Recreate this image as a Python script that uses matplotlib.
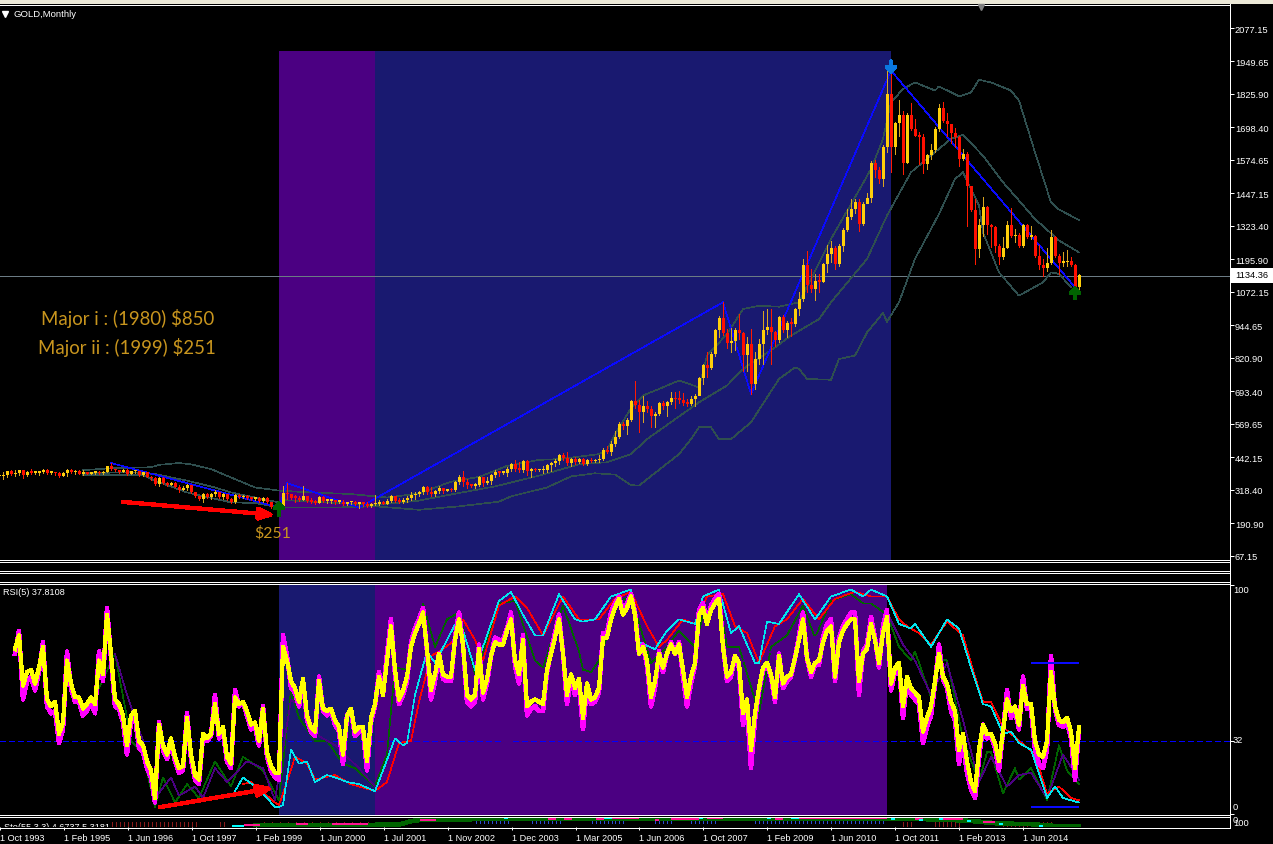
import numpy as np
import matplotlib
matplotlib.use("Agg")
import matplotlib.pyplot as plt
from matplotlib.lines import Line2D
from matplotlib.patches import Rectangle

#### Chart values ####

# monthly candles, one number per bar from bar 0 (open is the close before)
closes = [
  370,375,389,378,384,393,375,387,383,384,
  388,396,383,384,382,372,382,396,386,389,
  381,386,381,384,388,382,386,408,398,393,
  388,396,379,389,389,375,386,369,363,341,
  364,344,337,345,331,320,326,337,310,294,
  284,303,290,303,310,290,303,284,271,301,
  290,294,287,284,289,277,287,271,255,252,
  254,307,302,289,288,282,294,278,274,270,
  292,278,278,278,273,274,264,271,271,265,
  268,266,257,264,266,271,266,276,297,278,
  273,282,287,298,302,311,330,311,304,313,
  325,316,320,317,347,367,350,336,335,339,
  368,345,354,374,387,384,384,398,416,400,
  396,428,389,397,393,393,394,412,420,429,
  450,439,422,435,425,435,416,434,428,431,
  435,469,463,492,519,568,561,584,656,643,
  615,637,625,600,608,648,638,652,667,664,
  661,651,646,664,676,745,795,783,835,926,
  973,915,877,887,927,915,831,873,723,818,
  873,926,940,920,888,976,926,955,951,1006,
  1044,1176,1097,1082,1115,1110,1177,1215,1241,1180,
  1247,1307,1359,1387,1416,1332,1409,1431,1562,1535,
  1501,1625,1825,1623,1714,1745,1564,1747,1694,1666,
  1664,1559,1595,1614,1691,1771,1722,1713,1676,1663,
  1577,1596,1475,1385,1234,1326,1394,1328,1321,1249,
  1204,1241,1326,1285,1291,1247,1326,1282,1286,1209,
  1173,1163,1181,1282,1211,1184,1185,1189,1173,1092,
  1135]
highs = [
  378,386,392,396,396,396,393,390,398,391,
  392,398,398,389,388,387,385,398,398,394,
  393,396,388,388,391,391,390,411,421,400,
  394,398,400,392,392,392,388,388,372,367,
  367,368,348,350,347,337,332,342,338,312,
  296,306,305,306,318,312,306,303,287,303,
  303,298,299,293,292,292,290,290,271,258,
  262,332,345,299,299,294,332,294,287,282,
  294,294,280,280,282,282,279,274,278,276,
  274,270,274,269,299,279,275,284,299,297,
  287,288,294,309,312,316,335,332,330,320,
  332,327,322,325,354,375,389,360,342,345,
  373,369,367,379,393,392,392,405,421,433,
  424,431,433,401,403,400,411,417,424,436,
  455,459,462,440,443,441,439,436,441,435,
  452,477,487,506,544,576,578,591,662,735,
  660,675,657,639,614,655,658,658,690,693,
  696,688,665,677,684,747,798,845,842,931,
  979,1033,931,934,934,988,921,899,931,842,
  893,1001,1007,1007,925,982,985,963,972,1010,
  1073,1198,1227,1160,1141,1141,1183,1251,1268,1246,
  1255,1315,1388,1426,1426,1426,1416,1448,1571,1576,
  1547,1632,1915,1915,1718,1803,1762,1753,1792,1731,
  1683,1672,1598,1636,1699,1788,1794,1754,1699,1695,
  1667,1616,1604,1477,1426,1350,1433,1401,1331,1325,
  1255,1280,1344,1391,1312,1297,1331,1331,1322,1289,
  1251,1198,1238,1308,1284,1217,1223,1233,1204,1177,
  1139]
lows = [
  362,360,366,375,373,376,364,373,378,380,
  374,383,380,380,374,369,371,372,382,380,
  378,377,378,379,380,378,379,385,395,390,
  384,385,376,378,383,372,373,366,358,336,
  335,340,333,336,328,310,320,320,305,290,
  280,272,288,285,296,288,285,280,268,268,
  286,286,284,280,282,272,272,268,250,248,
  250,251,284,284,271,276,279,271,269,266,
  267,271,269,269,266,269,261,261,264,261,
  251,259,254,254,260,261,264,265,271,271,
  269,269,271,279,284,297,304,303,297,294,
  307,307,313,315,313,340,332,325,330,327,
  332,335,340,340,367,373,380,373,392,392,
  386,388,375,369,389,389,383,388,392,411,
  417,434,414,411,417,421,414,414,424,425,
  426,431,459,452,487,515,550,532,581,629,
  540,576,614,559,557,604,627,601,646,629,
  650,642,639,642,639,718,721,747,779,830,
  900,908,858,845,853,893,773,773,684,703,
  798,798,912,798,868,880,919,900,903,944,
  985,1039,1071,1073,1043,1071,1109,1147,1188,1160,
  1172,1229,1304,1350,1373,1306,1327,1411,1413,1509,
  1487,1477,1604,1530,1597,1667,1521,1563,1690,1665,
  1559,1524,1540,1578,1604,1686,1718,1667,1639,1623,
  1553,1576,1322,1382,1179,1204,1287,1293,1242,1223,
  1179,1198,1238,1280,1264,1242,1242,1278,1274,1204,
  1160,1132,1153,1179,1204,1141,1172,1170,1170,1090,
  1077]

# bollinger bands, read at the bars where they bend
upperBars = [21,28,38,40,45,48,53,58,64,70,78,88,94,97,105,113,120,127,135,140,150,152,154,158,161,165,170,175,177,182,186,190,195,200,203,208,214,218,221,223,226,229,234,235,240,243,245,248,253,255,259,263,265,270]
upperBand = [394,401,405,414,421,416,398,366,328,316,309,303,294,290,305,350,368,410,433,436,455,470,530,630,678,703,735,709,830,912,1007,1020,1016,1033,1122,1274,1433,1540,1655,1794,1845,1870,1839,1855,1817,1832,1880,1870,1839,1801,1604,1413,1386,1346]
midBars = [21,33,39,47,54,58,64,70,71,94,105,115,124,135,145,152,158,162,175,182,186,194,198,205,208,217,222,228,238,241,246,251,259,265,270]
midBand = [382,386,379,354,328,309,290,271,280,261,278,307,332,373,416,424,455,512,652,716,779,861,906,969,1033,1198,1363,1528,1655,1670,1591,1490,1350,1268,1223]
lowerBars = [21,36,39,47,58,64,70,85,94,105,115,125,128,137,143,149,154,158,160,165,170,173,175,178,180,183,188,195,199,200,202,208,210,214,217,221,222,225,229,235,239,241,245,246,250,255,261,263,265,268]
lowerBand = [375,375,354,309,271,269,252,252,256,243,256,274,294,328,370,382,377,337,335,395,455,512,557,557,512,512,576,741,785,779,741,738,817,830,918,992,959,1033,1198,1369,1502,1528,1401,1299,1147,1058,1109,1147,1141,1090]

# blue zigzag between the swing points
zigBars = [28,70,72,90,181,188,223,269]
zigPrices = [421,252,345,251,1033,684,1915,1090]

# rsi(5), both thick lines, one number per bar from bar 4
rsiYellow = [
  72,78,56,62,63,57,64,73,50,47,
  49,35,40,67,57,51,51,46,48,51,
  48,67,61,87,70,50,48,43,30,43,
  45,32,30,23,19,7,39,30,26,33,
  25,20,21,42,26,17,15,35,33,35,
  48,35,38,25,22,51,48,49,45,39,
  40,32,46,27,21,18,18,73,67,58,
  55,49,59,43,38,36,58,46,45,46,
  41,38,26,43,46,36,38,38,23,42,
  48,60,52,67,82,63,50,54,60,73,
  79,83,88,72,54,61,70,61,60,60,
  76,85,74,52,50,52,72,53,59,69,
  75,74,74,80,85,67,61,76,47,49,
  50,49,48,63,70,77,85,70,52,61,
  55,59,42,57,50,51,55,77,77,85,
  90,94,87,90,95,87,70,73,67,51,
  58,70,64,70,74,70,74,63,51,60,
  66,87,90,83,89,92,94,73,60,62,
  69,66,44,50,28,44,55,64,66,61,
  51,69,57,60,61,68,76,85,68,62,
  66,67,75,80,82,60,75,80,83,85,
  85,58,70,72,83,76,66,79,86,57,
  64,66,47,60,55,53,51,36,42,47,
  58,70,60,57,49,45,28,35,23,14,
  10,28,39,35,35,31,23,36,50,45,
  47,39,56,48,48,32,26,25,32,62,
  47,41,40,42,36,20,38]
rsiMagenta = [
  70,80,50,58,60,54,62,75,47,44,
  45,31,37,71,55,49,49,43,45,49,
  44,71,58,90,68,47,46,40,26,40,
  42,29,27,20,16,5,40,28,24,32,
  23,18,19,44,24,15,13,34,32,34,
  52,33,36,23,20,54,47,49,43,37,
  38,30,47,25,19,16,15,78,69,55,
  53,47,58,41,36,34,60,45,43,45,
  39,36,22,43,45,34,36,36,19,40,
  47,62,52,70,85,61,48,52,58,75,
  81,85,90,71,50,58,70,59,58,58,
  77,88,74,49,47,49,74,50,57,69,
  77,76,76,81,88,65,57,78,43,46,
  47,45,45,62,71,79,87,70,48,59,
  52,56,37,56,48,49,53,79,79,88,
  92,95,89,92,96,88,70,74,65,47,
  55,71,62,70,75,70,75,60,47,57,
  65,89,92,84,91,94,96,74,58,60,
  69,64,39,46,20,41,54,63,65,60,
  49,70,55,58,60,68,78,88,68,60,
  65,65,77,83,85,58,77,82,85,88,
  88,52,71,74,86,77,64,82,89,54,
  62,65,42,58,52,50,48,31,38,43,
  57,74,59,55,45,41,22,31,18,11,
  7,24,39,33,34,29,19,36,54,42,
  45,37,60,46,46,28,22,20,28,69,
  46,39,38,40,33,15,37]

# slower lines in the rsi window, read at the bars where they bend
cyanBars = [59,61,64,67,69,70,71,73,75,77,79,82,84,87,90,94,96,99,101,102,104,107,109,112,115,119,121,125,128,131,134,136,140,144,146,149,153,158,160,164,167,170,174,176,180,183,185,189,190,192,195,200,204,208,213,216,218,222,225,228,229,233,237,240,243,246,248,251,253,255,258,262,264,266,270]
cyanLine = [10,16,12,7,3,3,4,28,22,23,14,17,16,14,13,10,19,33,30,31,52,71,66,76,86,63,73,93,97,87,78,78,96,85,84,85,95,98,75,72,80,85,83,95,98,79,82,66,66,84,83,96,85,95,98,95,98,95,83,81,83,73,85,81,64,48,47,35,36,31,28,7,12,7,5]
redBars = [61,63,65,69,70,72,74,77,79,84,88,94,97,100,103,105,108,111,114,116,119,121,123,125,129,132,136,141,145,150,154,158,162,165,167,171,174,177,181,184,187,190,194,197,201,205,209,214,218,222,225,227,230,233,237,241,244,246,248,251,253,255,259,262,265,268,270]
redLine = [13,14,11,5,4,14,25,22,15,17,13,10,14,31,32,49,69,72,76,85,76,67,79,91,95,90,78,95,85,85,94,97,82,73,76,85,83,95,96,82,79,66,82,85,94,85,94,97,95,95,85,82,79,74,84,78,60,49,49,38,35,32,26,9,12,7,6]
greenBars = [25,29,32,33,36,39,41,44,47,50,54,58,61,66,70,73,75,79,82,86,89,94,97,99,102,106,109,112,115,119,121,125,129,134,136,141,145,146,148,150,155,158,163,167,170,174,176,180,182,185,190,193,197,201,204,208,213,216,218,222,225,228,229,233,235,237,241,245,247,248,251,254,255,258,262,265,267,270]
greenLine = [55,70,42,32,26,3,16,5,13,7,23,12,25,19,6,54,42,32,32,22,20,12,26,64,63,92,73,85,88,61,71,92,93,67,64,91,71,63,62,67,93,95,66,73,80,73,87,95,73,73,44,73,78,91,77,93,96,92,92,87,73,67,71,51,68,67,33,14,27,27,9,20,15,20,6,30,19,13]
indigoBars = [29,32,36,39,43,45,49,51,54,57,62,66,69,73,77,80,84,90,94,222,226,229,233,237,241,245,248,252,255,258,262,266,270]
indigoLine = [70,52,32,7,16,8,12,7,20,14,23,20,6,50,45,34,30,20,12,88,74,67,52,66,41,14,25,12,17,18,7,26,15]

# sto strip at the bottom: thick line, short dashes and small ticks
stoGreenBars = [64,75,90,100,103,105,110,118,125,140,160,175,190,205,222,236,243,250,258,264,270]
stoGreen = [17,20,20,25,60,70,70,78,80,80,85,80,85,85,85,75,60,35,28,10,10]
stoMagentaFrom = [61,74,83,105,137,141,149,153,164,168,177,194,200,229,236,246]
stoMagentaTo = [65,77,92,109,139,143,151,160,165,175,181,196,222,231,241,249]
stoMagenta = [23,30,27,70,83,83,83,93,70,83,93,80,93,83,83,47]
stoCyanFrom = [58,126,151,175,192,198,223,230,235,242,250,260]
stoCyanTo = [61,127,153,176,193,200,224,231,236,243,251,261]
stoCyan = [13,93,93,93,87,93,77,67,83,57,27,7]
stoRedBars = list(range(28, 50)) + [55, 56] + list(range(66, 93, 2)) + [226, 227, 228] + list(range(234, 241)) + list(range(251, 264))
stoBlueBars = list(range(119, 128)) + list(range(133, 141)) + list(range(148, 157)) + list(range(164, 169)) + list(range(173, 180)) + list(range(189, 222))

# axis labels
priceTicks = [2077.15,1949.65,1825.90,1698.40,1574.65,1447.15,1323.40,1195.90,1072.15,944.65,820.90,693.40,569.65,442.15,318.40,190.90,67.15]
dateBars = [0,16,32,48,64,80,96,112,128,144,160,176,192,208,224,240,256]
dateLabels = ["1 Oct 1993","1 Feb 1995","1 Jun 1996","1 Oct 1997","1 Feb 1999","1 Jun 2000","1 Jul 2001","1 Nov 2002","1 Dec 2003","1 Mar 2005","1 Jun 2006","1 Oct 2007","1 Feb 2009","1 Jun 2010","1 Oct 2011","1 Feb 2013","1 Jun 2014"]
lastPrice = 1134.36
rsiLevel = 32
rsiTicks = [100, 32, 0]

#### Drawing ####

W, H = 1273, 845
AXIS_X = 1229.5
TEXT = "Liberation Sans"
GOLDTEXT = "#c8951e"
INDIGO = "#4b0082"
NAVY = "#191970"
BAND = "#2f4f4f"
px = 0.72
thin = 0.45

plt.rcParams["lines.antialiased"] = False
plt.rcParams["patch.antialiased"] = False
plt.rcParams["font.family"] = [TEXT, "DejaVu Sans"]

fig = plt.figure(figsize=(W / 100, H / 100), dpi=100, facecolor="black")

def panel(top, bottom):
  ax = fig.add_axes([0, 1 - bottom / H, AXIS_X / W, (bottom - top) / H], facecolor="black")
  ax.set_xlim(0.25, (AXIS_X + 1) / 4)
  for s in ax.spines.values():
    s.set_visible(False)
  ax.set_xticks([])
  ax.set_yticks([])
  return ax

def figText(x, y, s, **kw):
  return fig.text(x / W, 1 - y / H, s, **kw)

def rule(x0, y0, x1, y1, color="white", lw=px):
  fig.add_artist(Line2D([x0 / W, x1 / W], [1 - y0 / H, 1 - y1 / H], color=color, lw=lw))

# window chrome
fig.add_artist(Rectangle((0, 1 - 3 / H), 1, 3 / H, color="#ece9d8", transform=fig.transFigure))

#### price window ####
ax = panel(6, 561)
priceBottom = 2077.15 - 532 * 3.807
ax.set_ylim(priceBottom, 2077.15 + 23 * 3.807)
shadeTop = 1990
ax.fill_between([70, 94], priceBottom, shadeTop, color=INDIGO, lw=0, zorder=1)
ax.fill_between([94, 223], priceBottom, shadeTop, color=NAVY, lw=0, zorder=1)
ax.axhline(lastPrice, color="#6b7b84", lw=thin, zorder=2)

ax.plot(upperBars, upperBand, color=BAND, lw=thin, zorder=3)
ax.plot(midBars, midBand, color=BAND, lw=thin, zorder=3)
ax.plot(lowerBars, lowerBand, color=BAND, lw=thin, zorder=3)
ax.plot(zigBars, zigPrices, color="#0a0aff", lw=thin, zorder=3)

bars = np.arange(len(closes))
closeArr = np.array(closes, dtype=float)
openArr = np.r_[closeArr[0], closeArr[:-1]]
up = closeArr >= openArr
ax.vlines(bars[up], np.array(lows)[up], np.array(highs)[up], color="#daa520", lw=thin, zorder=4)
ax.vlines(bars[~up], np.array(lows)[~up], np.array(highs)[~up], color="#ff1a00", lw=thin, zorder=4)
bodyMin = 6
heights = np.maximum(np.abs(closeArr - openArr), bodyMin)
bottoms = np.minimum(closeArr, openArr)
ax.bar(bars[up], heights[up], 0.75, bottoms[up], color="#ffcf0a", lw=0, zorder=5)
ax.bar(bars[~up], heights[~up], 0.75, bottoms[~up], color="#ff0f00", lw=0, zorder=5)

# swing arrows
ax.annotate("", xy=(223, 1902), xytext=(223, 1951), zorder=6,
            arrowprops=dict(arrowstyle="->,head_length=0.35,head_width=0.3", color="#0a78e0", lw=2.2, shrinkA=0, shrinkB=0))
for k, tip, tail in [(70, 276, 223), (269, 1095, 1049)]:
  ax.annotate("", xy=(k, tip), xytext=(k, tail), zorder=6,
              arrowprops=dict(arrowstyle="->,head_length=0.35,head_width=0.3", color="#006400", lw=2.2, shrinkA=0, shrinkB=0))

# hand drawn red arrow
ax.annotate("", xy=(69, 223), xytext=(31, 273), zorder=7,
            arrowprops=dict(arrowstyle="-|>,head_length=0.9,head_width=0.35", color="#ff0000", lw=2.4, shrinkA=0, shrinkB=0))

ax.yaxis.tick_right()
ax.set_yticks(priceTicks)
ax.set_yticklabels(["%.2f" % p for p in priceTicks])
ax.tick_params(axis="y", colors="white", labelsize=6.7, length=3, width=px, pad=0.8)

#### rsi window ####
axr = panel(586, 815)
axr.set_ylim(0, 100)
axr.fill_between([70, 94], -5, 105, color=NAVY, lw=0, zorder=1)
axr.fill_between([94, 222], -5, 105, color=INDIGO, lw=0, zorder=1)
axr.axhline(rsiLevel, color="#0000ff", lw=thin, ls=(0, (8, 5)), zorder=2)
axr.plot(greenBars, greenLine, color="#006400", lw=thin, zorder=3)
axr.plot(indigoBars, indigoLine, color=INDIGO, lw=thin, zorder=3)
axr.plot(redBars, redLine, color="#ff0000", lw=thin, zorder=4)
axr.plot(cyanBars, cyanLine, color="#00e5ee", lw=thin, zorder=4)
rsiBars = np.arange(4, 4 + len(rsiYellow))
axr.plot(rsiBars, rsiMagenta, color="#ff00ff", lw=2.6, zorder=5)
axr.plot(rsiBars, rsiYellow, color="#ffff00", lw=2.3, zorder=6)
axr.hlines([66, 3], 258, 270, color="#0a0aff", lw=1.2, zorder=7)
axr.annotate("", xy=(68.5, 11.4), xytext=(40.25, 3), zorder=8,
             arrowprops=dict(arrowstyle="-|>,head_length=0.9,head_width=0.35", color="#ff0000", lw=2.4, shrinkA=0, shrinkB=0))
axr.yaxis.tick_right()
axr.set_yticks(rsiTicks)
axr.set_yticklabels([])
axr.tick_params(axis="y", colors="white", length=3, width=px)

#### sto strip ####
axs = panel(818, 828)
axs.set_ylim(0, 100)
axs.vlines(stoRedBars, 15, 47, color="#8b1a1a", lw=thin, zorder=2)
axs.vlines(stoBlueBars, 40, 62, color="#2a4fd0", lw=thin, zorder=2)
axs.plot(stoGreenBars, stoGreen, color="#006400", lw=2.6, zorder=3)
axs.hlines(stoMagenta, stoMagentaFrom, stoMagentaTo, color="#ff1493", lw=1.2, zorder=4)
axs.hlines(stoCyan, stoCyanFrom, stoCyanTo, color="#00ffff", lw=1.2, zorder=4)
axs.text(1, 50, "Sto(55,3,3) 4.6737 5.3181", color="white", fontsize=6.6, va="top", clip_on=True, zorder=5)
axs.set_xticks(dateBars)
axs.set_xticklabels(dateLabels, ha="left")
axs.tick_params(axis="x", colors="white", labelsize=6.6, length=2.4, width=px, pad=1.8)

#### frame lines ####
for y in [5.5, 560.5, 562.5, 571.5, 573.5, 582.5, 584.5, 815.5, 817.5, 828.5]:
  rule(0, y, AXIS_X, y)
rule(AXIS_X, 5, AXIS_X, 829)

#### texts ####
figText(14, 14.5, "GOLD,Monthly", color="white", fontsize=6.8, va="center")
fig.add_artist(Line2D([5 / W], [1 - 14.5 / H], marker="v", ms=4.5, color="white", lw=0))
fig.add_artist(Line2D([980.5 / W], [1 - 8 / H], marker="v", ms=4.5, color="#808080", lw=0))
figText(3, 593, "RSI(5) 37.8108", color="white", fontsize=6.6, va="center")
figText(41, 318, "Major i : (1980) $850", color=GOLDTEXT, fontsize=13.4, family="Lato", va="center")
figText(38, 348, "Major ii : (1999) $251", color=GOLDTEXT, fontsize=13.4, family="Lato", va="center")
figText(254, 533, "$251", color=GOLDTEXT, fontsize=11.4, family="Lato", va="center")

# current price tag
fig.add_artist(Rectangle((1231 / W, 1 - 282 / H), 41 / W, 12 / H, color="white", transform=fig.transFigure))
figText(1235, 276, "%.2f" % lastPrice, color="black", fontsize=6.7, va="center")

# rsi and sto scale labels
figText(1233, 591, "100", color="white", fontsize=6.7, va="center")
figText(1233, 741, "32", color="white", fontsize=6.7, va="center")
figText(1233, 808, "0", color="white", fontsize=6.7, va="center")
figText(1233, 821, "0", color="white", fontsize=6.7, va="center")
figText(1233, 824, "100", color="white", fontsize=6.7, va="center")

fig.savefig("out.png", dpi=100, facecolor="black")
